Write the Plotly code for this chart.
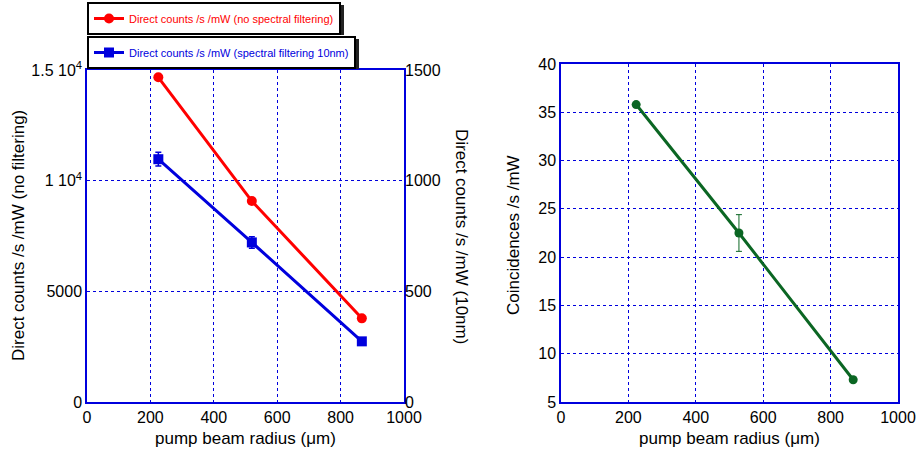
import plotly.graph_objects as go

# ---- data ----
radius = [225, 520, 867]
direct_nofilter = [14670, 9080, 3780]
radius_blue = [225, 520, 867]
direct_10nm = [1097, 721, 274]
direct_10nm_err = [31, 26, 0]
radius_coinc = [223, 528, 867]
coincidences = [35.8, 22.5, 7.3]
coinc_err = [0, 1.9, 0]

left_ytick_vals = [0, 5000, 10000, 15000]
left_ytick_text = ["0", "5000", "1 10<sup>4</sup>", "1.5 10<sup>4</sup>"]
right_ytick_vals = [0, 500, 1000, 1500]
coinc_ytick_vals = [5, 10, 15, 20, 25, 30, 35, 40]
x_tick_vals = [0, 200, 400, 600, 800, 1000]

W, H = 919, 456
def px(x): return x / W
def py(y): return 1 - y / H

BLUE = "#0000dd"
FONT = "Liberation Sans, Arial, sans-serif"

fig = go.Figure()
fig.add_trace(go.Scatter(
    x=radius, y=direct_nofilter, mode="lines+markers",
    name="Direct counts /s /mW (no spectral filtering)",
    line=dict(color="#ff0000", width=3),
    marker=dict(symbol="circle", size=10, color="#ff0000"),
    xaxis="x", yaxis="y", legend="legend"))
fig.add_trace(go.Scatter(
    x=radius_blue, y=direct_10nm, mode="lines+markers",
    name="Direct counts /s /mW (spectral filtering 10nm)",
    line=dict(color="#0000dd", width=3),
    marker=dict(symbol="square", size=10, color="#0000dd"),
    error_y=dict(type="data", array=direct_10nm_err, color="#0000dd", thickness=1.5, width=3),
    xaxis="x", yaxis="y2", legend="legend2"))
fig.add_trace(go.Scatter(
    x=radius_coinc, y=coincidences, mode="lines+markers",
    line=dict(color="#0b6623", width=3),
    marker=dict(symbol="circle", size=9, color="#0b6623"),
    error_y=dict(type="data", array=coinc_err, color="#0b6623", thickness=1, width=3),
    xaxis="x2", yaxis="y3", showlegend=False))

axis_common = dict(showline=True, mirror=True, linecolor=BLUE, linewidth=1.5,
                   showgrid=True, gridcolor=BLUE, griddash="dot", gridwidth=1,
                   zeroline=False, ticks="", automargin=False,
                   tickfont=dict(family=FONT, size=16, color="black"))

fig.update_layout(
    width=W, height=H, margin=dict(l=0, r=0, t=0, b=0),
    paper_bgcolor="white", plot_bgcolor="white",
    font=dict(family=FONT, color="black"),
    xaxis=dict(domain=[px(87), px(404)], range=[0, 1000], tickvals=x_tick_vals,
               anchor="y", **axis_common),
    yaxis=dict(domain=[py(402), py(70)], range=[0, 15000], tickvals=left_ytick_vals,
               ticktext=left_ytick_text, anchor="x", **axis_common),
    yaxis2=dict(range=[0, 1500], tickvals=right_ytick_vals, overlaying="y", side="right",
                anchor="x", showgrid=False, zeroline=False, showline=False, ticks="",
                automargin=False, tickfont=dict(family=FONT, size=16, color="black")),
    xaxis2=dict(domain=[px(561), px(898)], range=[0, 1000], tickvals=x_tick_vals,
                anchor="y3", **axis_common),
    yaxis3=dict(domain=[py(402), py(64)], range=[5, 40], tickvals=coinc_ytick_vals,
                anchor="x2", **axis_common),
    legend=dict(x=px(87), y=py(2), xanchor="left", yanchor="top",
                bgcolor="white", bordercolor="black", borderwidth=2,
                font=dict(family=FONT, size=11, color="#ff0000"), itemwidth=30),
    legend2=dict(x=px(87), y=py(36), xanchor="left", yanchor="top",
                 bgcolor="white", bordercolor="black", borderwidth=2,
                 font=dict(family=FONT, size=11, color="#0000dd"), itemwidth=30),
)

annos = [
    dict(text="Direct counts /s /mW (no filtering)", x=px(18), y=py(236), textangle=-90),
    dict(text="Direct counts /s /mW (10nm)", x=px(462), y=py(236), textangle=90),
    dict(text="Coincidences /s /mW", x=px(513), y=py(235), textangle=-90),
    dict(text="pump beam radius (\u03bcm)", x=px(245), y=py(438)),
    dict(text="pump beam radius (\u03bcm)", x=px(729), y=py(438)),
]
for a in annos:
    fig.add_annotation(xref="paper", yref="paper", showarrow=False,
                       xanchor="center", yanchor="middle",
                       font=dict(family=FONT, size=17, color="black"), **a)

# drop shadows behind the legend boxes
for (x0, y0, x1, y1) in [(91, 5, 344, 35), (91, 39, 359, 69)]:
    fig.add_shape(type="rect", xref="paper", yref="paper",
                  x0=px(x0), x1=px(x1), y0=py(y1), y1=py(y0),
                  fillcolor="#222222", line=dict(width=0), layer="above")

fig.write_html("out.html", config={"displayModeBar": False})
with open("out.html", "r", encoding="utf-8") as f:
    html = f.read()
html = html.replace("<body>", '<body style="margin:0;padding:0;">', 1)
with open("out.html", "w", encoding="utf-8") as f:
    f.write(html)
